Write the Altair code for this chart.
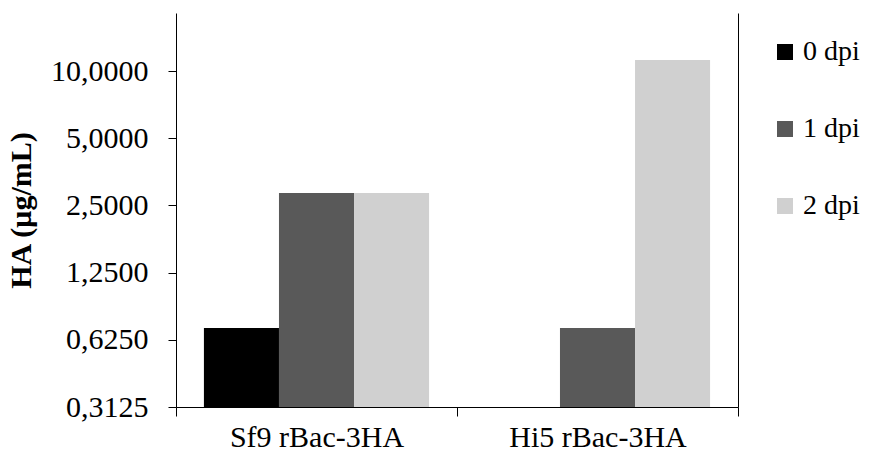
import altair as alt
import pandas as pd

# HA concentration per cell line and day post infection
cell_lines = ["Sf9 rBac-3HA", "Hi5 rBac-3HA"]
days = ["0 dpi", "1 dpi", "2 dpi"]
sf9_values = [0.706, 2.84, 2.84]
hi5_values = [None, 0.706, 11.2]

y_ticks = [0.3125, 0.625, 1.25, 2.5, 5, 10]
y_min, y_max = 0.3125, 18.2
day_colors = ["#000000", "#595959", "#d0d0d0"]

rows = []
for line, vals in zip(cell_lines, [sf9_values, hi5_values]):
    for d, v in zip(days, vals):
        rows.append({"line": line, "day": d, "ha": v})
df = pd.DataFrame(rows)

FONT = "Liberation Serif"

base = alt.Chart(df).transform_filter("isValid(datum.ha)")

x_scale = alt.Scale(paddingInner=0, paddingOuter=0)
x_enc = alt.X(
    "line:N",
    sort=cell_lines,
    scale=x_scale,
    axis=alt.Axis(
        title=None,
        labelAngle=0,
        labelFont=FONT,
        labelFontSize=30,
        labelColor="#000000",
        labelPadding=6,
        tickBand="extent",
        tickSize=9,
        tickColor="#000000",
        domainColor="#000000",
        grid=False,
    ),
)
offset_enc = alt.XOffset(
    "day:N", sort=days, scale=alt.Scale(paddingInner=0, paddingOuter=0.372)
)

y_scale = alt.Scale(type="log", base=2, domain=[y_min, y_max], nice=False)

bars = base.mark_bar().encode(
    x=x_enc,
    xOffset=offset_enc,
    y=alt.Y(
        "ha:Q",
        scale=y_scale,
        axis=alt.Axis(
            title="HA (µg/mL)",
            titleFont=FONT,
            titleFontSize=30,
            titleFontWeight="bold",
            titleColor="#000000",
            titlePadding=14,
            values=y_ticks,
            labelExpr="replace(format(datum.value, '.4f'), '.', ',')",
            labelFont=FONT,
            labelFontSize=30,
            labelColor="#000000",
            labelPadding=20,
            tickSize=8,
            tickColor="#000000",
            domainColor="#000000",
            grid=False,
        ),
    ),
    y2=alt.Y2(datum=y_min),
    color=alt.Color(
        "day:N",
        sort=days,
        scale=alt.Scale(domain=days, range=day_colors),
        legend=alt.Legend(
            title=None,
            orient="none",
            legendX=595,
            legendY=25,
            symbolType="square",
            symbolSize=256,
            symbolStrokeWidth=0,
            labelFont=FONT,
            labelFontSize=28,
            labelColor="#000000",
            labelOffset=4,
            rowPadding=49,
            padding=0,
        ),
    ),
)

# right-hand frame: a bare y axis on the right side sharing the same scale
right_frame = base.mark_bar(opacity=0).encode(
    x=alt.X("line:N", sort=cell_lines, scale=x_scale),
    xOffset=offset_enc,
    y=alt.Y(
        "ha:Q",
        scale=y_scale,
        axis=alt.Axis(orient="right", title=None, labels=False, ticks=False,
                      domainColor="#000000", grid=False),
    ),
    y2=alt.Y2(datum=y_min),
)

chart = (
    alt.layer(bars, right_frame)
    .resolve_axis(y="independent")
    .properties(
        width=562,
        height=394,
        autosize=alt.AutoSizeParams(type="none"),
        padding={"left": 176, "top": 13, "right": 141, "bottom": 61},
        background="#ffffff",
    )
    .configure_view(stroke=None)
)

chart.save("out.html", embed_options={"renderer": "svg", "actions": False})
